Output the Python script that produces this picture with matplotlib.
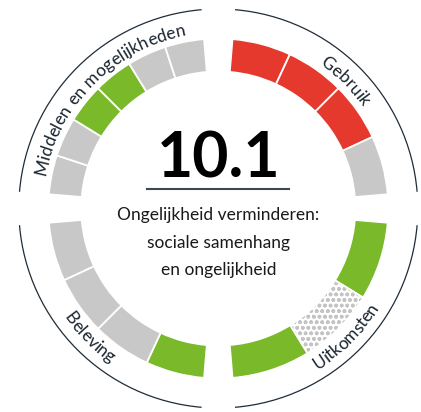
import numpy as np
import matplotlib
matplotlib.use("Agg")
import matplotlib.pyplot as plt
from matplotlib.patches import Wedge, Arc

plt.rcParams['font.family'] = ['Lato', 'DejaVu Sans']
plt.rcParams['hatch.linewidth'] = 1.1

# score in the middle and its description
score = "10.1"
center_lines = ["Ongelijkheid verminderen:", "sociale samenhang", "en ongelijkheid"]

# quadrants, read clockwise from 12 o'clock
quadrants = ["Gebruik", "Uitkomsten", "Beleving", "Middelen en mogelijkheden"]
quad_start = [90, 0, 270, 180]          # angle where each quadrant begins (clockwise)
segments = [
    ["slecht", "slecht", "slecht", "neutraal"],
    ["goed", "onbekend", "goed"],
    ["goed", "neutraal", "neutraal", "neutraal"],
    ["neutraal", "neutraal", "goed", "goed", "neutraal", "neutraal"],
]
# text on the lower half is flipped so it stays readable
label_flip = [False, True, True, False]

colors = {"slecht": "#e5392e", "goed": "#7ab929", "neutraal": "#c8c8c8", "onbekend": "white"}

GAP = 4.8            # half gap between quadrants, degrees
R_IN, R_OUT = 137, 170
R_LINE = 199.5
CX, CY = 218.3, 208.5

fig = plt.figure(figsize=(4.21, 4.12), dpi=100)
ax = fig.add_axes([0, 0, 1, 1])
ax.set_xlim(-CX, 421 - CX)
ax.set_ylim(-(412 - CY), CY)
ax.axis('off')

for q, start in enumerate(quad_start):
    a_hi = start - GAP
    a_lo = start - 90 + GAP
    n = len(segments[q])
    step = (a_hi - a_lo) / n
    for i, s in enumerate(segments[q]):
        t2 = a_hi - i * step
        t1 = t2 - step
        if s == "onbekend":
            # dotted pattern for a missing score
            w = Wedge((0, 0), R_OUT, t1, t2, width=R_OUT - R_IN, facecolor="white",
                      edgecolor="#c4c4c4", hatch="ooo", linewidth=0)
            ax.add_patch(w)
            ax.add_patch(Wedge((0, 0), R_OUT, t1, t2, width=R_OUT - R_IN,
                               facecolor="none", edgecolor="white", linewidth=1.3))
        else:
            ax.add_patch(Wedge((0, 0), R_OUT, t1, t2, width=R_OUT - R_IN,
                               facecolor=colors[s], edgecolor="white", linewidth=1.3))
    # thin outer arc
    ax.add_patch(Arc((0, 0), 2 * R_LINE, 2 * R_LINE, theta1=a_lo, theta2=a_hi,
                     color="#1f2c38", linewidth=0.9))

renderer = fig.canvas.get_renderer()


def char_width(c, size):
    t1 = ax.text(0, 0, "x" + c + "x", fontsize=size)
    t2 = ax.text(0, 0, "xx", fontsize=size)
    w = t1.get_window_extent(renderer).width - t2.get_window_extent(renderer).width
    t1.remove()
    t2.remove()
    return w


def curved_text(text, mid, r, size, flip):
    widths = [char_width(c, size) for c in text]
    total = np.degrees(sum(widths) / r)
    pos = 0
    for c, w in zip(text, widths):
        off = np.degrees((pos + w / 2) / r)
        if flip:
            ang = mid - total / 2 + off
            rot = ang + 90
        else:
            ang = mid + total / 2 - off
            rot = ang - 90
        ax.text(r * np.cos(np.radians(ang)), r * np.sin(np.radians(ang)), c,
                fontsize=size, color="#1a242e", ha="center", va="baseline",
                rotation=rot, rotation_mode="anchor")
        pos += w


for q, start in enumerate(quad_start):
    mid = start - 45
    if label_flip[q]:
        curved_text(quadrants[q], mid, 189, 12.5, True)
    else:
        curved_text(quadrants[q], mid, 176, 12.5, False)

ax.text(0, 31.5, score, fontsize=45, fontweight="bold", color="black",
        ha="center", va="baseline")
ax.plot([-71.3, 70.7], [19.5, 19.5], color="#3b4850", linewidth=1.5)

for k, line in enumerate(center_lines):
    ax.text(0, -11.5 - 27.5 * k, line, fontsize=12.5, color="#1a1a1a",
            ha="center", va="baseline")

fig.savefig("out.png", dpi=100)
